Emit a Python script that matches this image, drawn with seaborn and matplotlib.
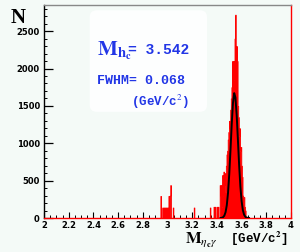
import numpy as np
import pandas as pd
import matplotlib
matplotlib.use("Agg")
import matplotlib.pyplot as plt
import seaborn as sns
from matplotlib.patches import FancyBboxPatch

# ---- data ----
bin_centers = [2.945, 2.960, 2.970, 2.980, 2.990, 3.000, 3.010, 3.020, 3.025, 3.045,
               3.215, 3.345, 3.375, 3.385,
               3.400, 3.410, 3.425, 3.430, 3.435, 3.440, 3.445, 3.450, 3.455, 3.460,
               3.465, 3.470, 3.475, 3.480, 3.485, 3.490, 3.495, 3.500, 3.505, 3.510,
               3.515, 3.520, 3.525, 3.530, 3.535, 3.540, 3.545, 3.550, 3.555, 3.560,
               3.565, 3.570, 3.575, 3.580, 3.585, 3.590, 3.595, 3.600, 3.605, 3.610,
               3.615, 3.620, 3.625, 3.630]
bin_counts = [295, 140, 140, 140, 140, 140, 295, 300, 440, 140,
              140, 140, 150, 150,
              150, 150, 440, 300, 440, 150, 575, 300, 620, 440,
              600, 350, 700, 850, 900, 1050, 1150, 1300, 1200, 1450,
              1600, 1750, 2100, 1500, 2100, 1850, 2400, 2720, 2100, 2300,
              2100, 1500, 1350, 1100, 1200, 900, 950, 700, 550, 300,
              280, 280, 150, 100]

fit_x = [3.43, 3.44, 3.45, 3.46, 3.47, 3.48, 3.49, 3.50, 3.51, 3.52, 3.53, 3.54,
         3.55, 3.56, 3.57, 3.58, 3.59, 3.60, 3.61, 3.62, 3.63, 3.64, 3.65, 3.66]
fit_y = [1, 3, 11, 31, 77, 170, 335, 586, 910, 1256, 1537, 1671,
         1613, 1381, 1050, 709, 423, 227, 106, 45, 17, 5, 2, 0]

x_ticks = [2.0, 2.2, 2.4, 2.6, 2.8, 3.0, 3.2, 3.4, 3.6, 3.8, 4.0]
x_tick_labels = ["2", "2.2", "2.4", "2.6", "2.8", "3", "3.2", "3.4", "3.6", "3.8", "4"]
y_ticks = [0, 500, 1000, 1500, 2000, 2500]
y_tick_labels = ["0", "500", "1000", "1500", "2000", "2500"]

mass_text = "= 3.542"
fwhm_text = "FWHM= 0.068"
unit_text = "(GeV/c$^{2}$)"

# ---- figure ----
plt.rcParams["mathtext.fontset"] = "stix"
bg = "#f4faf7"
fig = plt.figure(figsize=(3.0, 2.52), dpi=100, facecolor=bg)
ax = fig.add_axes([44/300, 1-218/252, (291-44)/300, (218-5)/252])
ax.set_facecolor(bg)

# white blob behind text
ax.add_patch(FancyBboxPatch((2.37, 1420), 0.95, 1360,
                            boxstyle="round,pad=0,rounding_size=0.06",
                            mutation_aspect=1500, facecolor="#fdfefe",
                            edgecolor="none", zorder=0.5))

df = pd.DataFrame({"m": bin_centers, "n": bin_counts})
sns.histplot(data=df, x="m", weights="n", binwidth=0.005, binrange=(1.9975, 4.0025),
             element="step", fill=True, color="red", alpha=1.0, linewidth=0.6,
             ax=ax, zorder=2)
fit = pd.DataFrame({"x": fit_x, "y": fit_y})
sns.lineplot(data=fit, x="x", y="y", color="black", linewidth=1.4, ax=ax, zorder=3)

ax.set_xlim(2.0, 4.0)
ax.set_ylim(0, 2850)
ax.set_xlabel("")
ax.set_ylabel("")

ax.set_xticks(x_ticks)
ax.set_xticklabels(x_tick_labels, fontsize=6, fontweight="bold", family="DejaVu Sans")
ax.set_xticks(np.arange(2.0, 4.0001, 0.05), minor=True)
ax.set_yticks(y_ticks)
ax.set_yticklabels(y_tick_labels, fontsize=6, fontweight="bold", family="DejaVu Sans")
ax.set_yticks(np.arange(0, 2850, 100), minor=True)
ax.tick_params(axis="x", which="major", direction="in", length=4.5, width=0.8, pad=2.5)
ax.tick_params(axis="x", which="minor", direction="in", length=2.5, width=0.7)
ax.tick_params(axis="y", which="major", direction="in", length=6.5, width=0.9, pad=3)
ax.tick_params(axis="y", which="minor", direction="in", length=2.2, width=0.7)

for s, c in [("left", "black"), ("top", "#888888"), ("right", "red"), ("bottom", "red")]:
    ax.spines[s].set_color(c)
    ax.spines[s].set_linewidth(1.0)

blue = "#2236e6"
fig.text(97/300, 1-55/252, r"$\mathbf{M}_{\mathbf{h}_{\mathbf{c}}}$", fontsize=15,
         color=blue, va="baseline")
fig.text(128.5/300, 1-54/252, mass_text, fontsize=10.5, color=blue,
         family="Liberation Mono", fontweight="bold", va="baseline")
fig.text(97/300, 1-84/252, fwhm_text, fontsize=9.5, color=blue,
         family="Liberation Mono", fontweight="bold", va="baseline")
fig.text(131/300, 1-106/252, unit_text, fontsize=9, color=blue,
         family="Liberation Mono", fontweight="bold", va="baseline")

fig.text(11/300, 1-23/252, "N", fontsize=15, fontweight="bold",
         family="Liberation Serif", va="baseline")
fig.text(185/300, 1-243/252, r"$\mathbf{M}_{\eta_{\mathbf{c}}\gamma}$", fontsize=12,
         va="baseline")
fig.text(230/300, 1-243/252, "[GeV/c$^{\\mathbf{2}}$]", fontsize=9,
         family="Liberation Mono", fontweight="bold", va="baseline")

fig.savefig("out.png", dpi=100, facecolor=bg)
